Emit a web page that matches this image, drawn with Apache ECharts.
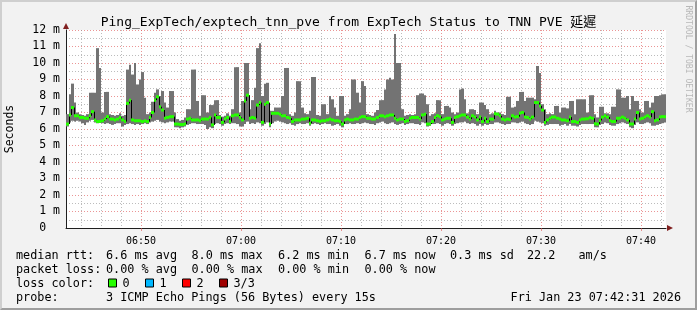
<!DOCTYPE html>
<html><head><meta charset="utf-8">
<script src="https://cdn.jsdelivr.net/npm/echarts@6/dist/echarts.min.js"></script>
<style>
html,body{margin:0;padding:0;background:#f2f2f2;}
#wrap{position:relative;width:697px;height:310px;overflow:hidden;}
#chart{position:absolute;left:0;top:0;width:697px;height:310px;}
#frame{position:absolute;left:0;top:0;width:697px;height:310px;box-sizing:border-box;border-top:2px solid #cfcfcf;border-left:2px solid #cfcfcf;border-right:2px solid #9e9e9e;border-bottom:2px solid #9e9e9e;pointer-events:none;}
</style></head><body>
<div id="wrap"><div id="chart"></div><div id="frame"></div></div>
<script>
// ---- data ----
const startTime = '06:42:30';
const endTime = '07:42:30';
const stepSeconds = 15;

const maxMs = [
  6.9, 8.1, 8.75, 7.6, 7.0, 6.9, 6.85, 6.8, 6.9, 8.2,
  8.2, 8.2, 10.9, 9.7, 7.0, 8.25, 8.25, 6.9, 6.85, 6.8,
  6.85, 6.95, 6.8, 6.85, 9.6, 9.9, 9.3, 10.0, 8.7, 9.0,
  9.45, 7.9, 6.9, 7.0, 7.65, 8.2, 8.4, 8.0, 8.3, 7.6,
  7.3, 8.3, 8.3, 7.0, 6.6, 6.5, 6.55, 6.7, 7.2, 7.2,
  9.6, 9.6, 7.7, 6.8, 8.05, 8.05, 7.0, 7.45, 7.45, 7.75,
  7.75, 6.85, 6.75, 6.8, 6.95, 6.8, 7.2, 9.75, 9.75, 7.0,
  7.7, 10.0, 10.0, 7.2, 7.75, 8.5, 10.9, 11.2, 8.0, 8.75,
  8.8, 7.1, 7.1, 7.3, 7.3, 7.3, 8.0, 9.7, 9.7, 6.9,
  6.8, 7.0, 8.9, 8.9, 7.3, 6.95, 6.9, 7.1, 9.15, 9.15,
  6.85, 6.8, 7.5, 7.5, 6.9, 8.0, 7.8, 7.3, 6.8, 8.0,
  8.0, 6.8, 6.9, 7.2, 9.0, 9.0, 8.2, 7.6, 8.9, 8.6,
  6.9, 6.85, 6.8, 7.0, 7.15, 7.75, 7.75, 8.4, 9.0, 9.1,
  9.0, 11.76, 10.0, 10.0, 7.2, 6.8, 6.85, 6.9, 6.85, 6.9,
  8.05, 8.15, 8.15, 8.05, 7.5, 6.8, 6.9, 6.95, 7.75, 7.75,
  6.9, 7.4, 7.4, 7.3, 7.0, 6.9, 7.0, 8.4, 8.45, 7.8,
  6.95, 7.2, 7.2, 7.15, 6.9, 7.6, 7.6, 7.45, 7.2, 6.9,
  6.95, 7.1, 7.0, 7.0, 6.9, 6.85, 7.95, 7.95, 7.3, 7.35,
  7.7, 8.25, 8.25, 7.7, 7.9, 7.9, 7.9, 7.8, 9.82, 9.4,
  7.5, 7.2, 6.9, 6.95, 6.9, 7.4, 7.4, 7.0, 7.3, 7.3,
  7.25, 7.7, 7.7, 6.9, 7.8, 7.8, 7.8, 7.8, 7.0, 8.05,
  8.05, 6.9, 6.7, 7.35, 7.35, 6.95, 6.95, 6.9, 7.35, 7.35,
  8.4, 8.4, 7.9, 7.9, 8.0, 7.2, 8.0, 7.7, 7.7, 7.2,
  7.0, 7.7, 7.7, 7.3, 7.6, 8.0, 8.0, 8.05, 8.1, 8.1
];

const medianMs = [
  6.3, 6.85, 7.3, 6.8, 6.8, 6.7, 6.7, 6.65, 6.65, 6.8,
  7.05, 6.55, 6.45, 6.45, 6.5, 6.6, 6.75, 6.6, 6.6, 6.55,
  6.6, 6.7, 6.55, 6.45, 7.55, 7.75, 6.55, 6.5, 6.5, 6.5,
  6.45, 6.5, 6.45, 6.7, 7.0, 7.75, 7.95, 7.35, 7.15, 6.65,
  6.7, 6.75, 6.75, 6.3, 6.3, 6.27, 6.27, 6.3, 6.6, 6.65,
  6.55, 6.55, 6.55, 6.5, 6.6, 6.6, 6.6, 6.7, 6.25, 6.85,
  6.7, 6.7, 6.4, 6.6, 6.7, 6.45, 6.8, 6.85, 6.85, 6.7,
  6.55, 7.7, 8.05, 6.65, 6.7, 6.65, 7.45, 7.6, 6.4, 7.5,
  7.6, 6.3, 6.95, 6.95, 6.95, 6.9, 6.8, 6.8, 6.7, 6.65,
  6.45, 6.55, 6.55, 6.55, 6.6, 6.6, 6.65, 6.35, 6.55, 6.55,
  6.5, 6.45, 6.5, 6.5, 6.55, 6.6, 6.55, 6.5, 6.5, 6.45,
  6.3, 6.55, 6.6, 6.55, 6.55, 6.6, 6.6, 6.7, 6.75, 6.75,
  6.65, 6.65, 6.6, 6.6, 6.7, 6.8, 6.8, 6.75, 6.8, 6.85,
  6.85, 6.65, 6.55, 6.6, 6.6, 6.45, 6.5, 6.65, 6.7, 6.7,
  6.7, 6.6, 6.85, 6.9, 6.3, 6.3, 6.45, 6.7, 6.8, 6.75,
  6.55, 6.6, 6.65, 6.65, 6.4, 6.7, 6.75, 6.8, 6.85, 6.85,
  6.72, 6.6, 6.8, 6.72, 6.55, 6.72, 6.45, 6.65, 6.45, 6.6,
  6.6, 6.92, 6.9, 6.8, 6.6, 6.55, 6.6, 6.58, 6.8, 6.72,
  6.75, 6.95, 7.0, 6.72, 6.7, 6.6, 6.72, 7.6, 7.6, 7.4,
  7.15, 6.4, 6.55, 6.65, 6.72, 6.72, 6.65, 6.6, 6.55, 6.55,
  6.5, 6.72, 6.45, 6.45, 6.4, 6.55, 6.6, 6.6, 6.62, 6.7,
  6.65, 6.32, 6.3, 6.52, 6.72, 6.8, 6.72, 6.52, 6.45, 6.45,
  6.65, 6.65, 6.72, 6.65, 6.55, 6.3, 6.3, 6.6, 7.0, 6.6,
  6.65, 6.72, 6.8, 6.72, 7.05, 6.5, 6.55, 6.72, 6.75, 6.75
];

const minMs = [
  6.15, 6.4, 6.5, 6.45, 6.5, 6.45, 6.35, 6.25, 6.4, 6.5,
  6.55, 6.4, 6.35, 6.4, 6.35, 6.3, 6.35, 6.3, 6.25, 6.3,
  6.35, 6.35, 6.15, 6.25, 6.3, 6.35, 6.3, 6.25, 6.3, 6.25,
  6.3, 6.35, 6.3, 6.4, 6.45, 6.5, 6.55, 6.45, 6.4, 6.35,
  6.4, 6.45, 6.45, 6.1, 6.1, 6.05, 6.1, 6.15, 6.25, 6.3,
  6.35, 6.35, 6.3, 6.3, 6.3, 6.25, 6.0, 6.1, 6.05, 6.3,
  6.35, 6.3, 6.2, 6.3, 6.35, 6.3, 6.35, 6.35, 6.3, 6.15,
  6.15, 6.3, 6.45, 6.3, 6.35, 6.3, 6.4, 6.35, 6.2, 6.3,
  6.4, 6.1, 6.35, 6.45, 6.5, 6.45, 6.4, 6.35, 6.3, 6.35,
  6.25, 6.2, 6.3, 6.35, 6.3, 6.3, 6.35, 6.2, 6.3, 6.35,
  6.3, 6.25, 6.3, 6.35, 6.3, 6.3, 6.2, 6.25, 6.3, 6.2,
  6.1, 6.3, 6.3, 6.35, 6.3, 6.3, 6.35, 6.3, 6.35, 6.4,
  6.35, 6.3, 6.3, 6.25, 6.35, 6.4, 6.45, 6.35, 6.3, 6.35,
  6.4, 6.3, 6.25, 6.3, 6.35, 6.25, 6.3, 6.35, 6.35, 6.3,
  6.3, 6.25, 6.4, 6.35, 6.15, 6.2, 6.3, 6.3, 6.35, 6.3,
  6.2, 6.3, 6.35, 6.3, 6.2, 6.3, 6.35, 6.4, 6.4, 6.45,
  6.35, 6.3, 6.35, 6.3, 6.2, 6.3, 6.2, 6.3, 6.25, 6.3,
  6.3, 6.4, 6.4, 6.35, 6.3, 6.25, 6.3, 6.3, 6.4, 6.4,
  6.35, 6.4, 6.45, 6.35, 6.3, 6.25, 6.3, 6.5, 6.45, 6.4,
  6.35, 6.2, 6.25, 6.3, 6.3, 6.3, 6.3, 6.2, 6.25, 6.3,
  6.2, 6.3, 6.2, 6.2, 6.15, 6.25, 6.3, 6.3, 6.3, 6.3,
  6.3, 6.1, 6.1, 6.25, 6.3, 6.4, 6.35, 6.25, 6.2, 6.2,
  6.3, 6.35, 6.4, 6.35, 6.3, 6.1, 6.05, 6.25, 6.4, 6.3,
  6.3, 6.35, 6.4, 6.35, 6.2, 6.2, 6.25, 6.3, 6.35, 6.4
];

const xTickLabels = ['06:50', '07:00', '07:10', '07:20', '07:30', '07:40'];
const yMin = 0, yMax = 12, yStep = 1;

const titleText = 'Ping_ExpTech/exptech_tnn_pve from ExpTech Status to TNN PVE 延遲';
const yAxisTitle = 'Seconds';
const rttLabel = 'median rtt:';
const rttItems = ['6.6 ms avg', '8.0 ms max', '6.2 ms min', '6.7 ms now', '0.3 ms sd', '22.2', 'am/s'];
const lossLabel = 'packet loss:';
const lossItems = ['0.00 % avg', '0.00 % max', '0.00 % min', '0.00 % now'];
const lossColorLabel = 'loss color:';
const lossColorNames = ['0', '1', '2', '3/3'];
const lossColorValues = ['#26ff00', '#00b8ff', '#ff0000', '#a00000'];
const probeLabel = 'probe:';
const probeText = '3 ICMP Echo Pings (56 Bytes) every 15s';
const dateText = 'Fri Jan 23 07:42:31 2026';
const watermark = 'RRDTOOL / TOBI OETIKER';

// ---- layout / style ----
const MONO = '"DejaVu Sans Mono", "Noto Sans CJK TC", monospace';
const itemX = [106, 191.5, 278, 364.5, 450, 527, 578.5];
const lineY = [256, 270, 283.5, 297.5];
const boxX = [108, 145, 182, 219];
const legendFont = '11.8px ' + MONO;

const toSec = s => { const p = s.split(':').map(Number); return p[0] * 3600 + p[1] * 60 + (p[2] || 0); };
const t0 = toSec(startTime), t1 = toSec(endTime);
const times = medianMs.map((_, i) => t0 + i * stepSeconds);
const smokeData = times.map((t, i) => [t, minMs[i], maxMs[i]]);
const medData = times.map((t, i) => [t, medianMs[i]]);
const stepData = times.slice(1).map((t, k) => [t, medianMs[k], medianMs[k + 1]]);
const majorTicks = xTickLabels.map(toSec);
const minorTicks = [];
for (let s = Math.ceil(t0 / 120) * 120; s < t1; s += 120) if (s % 600) minorTicks.push(s);
const pad = n => String(n).padStart(2, '0');
const fmtTime = v => pad(Math.floor(v / 3600)) + ':' + pad(Math.floor((v % 3600) / 60));

const GRID = 'rgba(143,143,143,0.6)';
const MGRID = 'rgba(222,79,79,0.6)';
const AXIS = '#1f1f1f';
const ARROW = '#801f1f';

const chart = echarts.init(document.getElementById('chart'), null, { renderer: 'canvas' });

const graphic = [];
graphic.push({ type: 'text', x: 688, y: 59, rotation: -Math.PI / 2, silent: true,
  style: { text: watermark, font: '8.1px ' + MONO, fill: '#b8b8b8', align: 'center', verticalAlign: 'middle' } });
graphic.push({ type: 'text', x: 10.5, y: 129, rotation: Math.PI / 2, silent: true,
  style: { text: yAxisTitle, font: '11.5px ' + MONO, fill: '#000', align: 'center', verticalAlign: 'middle' } });
graphic.push({ type: 'text', x: 16, y: lineY[0], style: { text: rttLabel, font: legendFont, fill: '#000', verticalAlign: 'middle' } });
rttItems.forEach((s, i) => graphic.push({ type: 'text', x: itemX[i], y: lineY[0], style: { text: s, font: legendFont, fill: '#000', verticalAlign: 'middle' } }));
graphic.push({ type: 'text', x: 16, y: lineY[1], style: { text: lossLabel, font: legendFont, fill: '#000', verticalAlign: 'middle' } });
lossItems.forEach((s, i) => graphic.push({ type: 'text', x: itemX[i], y: lineY[1], style: { text: s, font: legendFont, fill: '#000', verticalAlign: 'middle' } }));
graphic.push({ type: 'text', x: 16, y: lineY[2], style: { text: lossColorLabel, font: legendFont, fill: '#000', verticalAlign: 'middle' } });
lossColorNames.forEach((s, i) => {
  graphic.push({ type: 'rect', shape: { x: boxX[i] + 0.5, y: lineY[2] - 4.5, width: 8, height: 8 }, style: { fill: lossColorValues[i], stroke: '#000', lineWidth: 1 } });
  graphic.push({ type: 'text', x: boxX[i] + 14.5, y: lineY[2], style: { text: s, font: legendFont, fill: '#000', verticalAlign: 'middle' } });
});
graphic.push({ type: 'text', x: 16, y: lineY[3], style: { text: probeLabel, font: legendFont, fill: '#000', verticalAlign: 'middle' } });
graphic.push({ type: 'text', x: itemX[0], y: lineY[3], style: { text: probeText, font: legendFont, fill: '#000', verticalAlign: 'middle' } });
graphic.push({ type: 'text', x: 681, y: lineY[3], style: { text: dateText, font: legendFont, fill: '#000', align: 'right', verticalAlign: 'middle' } });

const option = {
  animation: false,
  backgroundColor: 'transparent',
  title: {
    text: titleText, left: 'center', top: 16, padding: 0,
    textStyle: { fontFamily: MONO, fontSize: 13, fontWeight: 'normal', color: '#000' }
  },
  grid: { left: 66, top: 30, width: 600, height: 198, show: true, backgroundColor: '#ffffff', borderWidth: 0, containLabel: false, outerBoundsMode: 'none' },
  xAxis: [
    {
      type: 'value', min: t0, max: t1, position: 'bottom',
      axisLine: { show: true, onZero: false, lineStyle: { color: AXIS, width: 1 } },
      axisTick: { show: true, customValues: majorTicks, length: 3, lineStyle: { color: MGRID } },
      axisLabel: { customValues: majorTicks, formatter: v => fmtTime(v), fontFamily: MONO, fontSize: 10, color: '#000', margin: 8 },
      splitLine: { show: true, lineStyle: { color: MGRID, width: 1, type: [1, 2] } }
    },
    {
      type: 'value', min: t0, max: t1, position: 'top',
      axisLine: { show: false }, axisLabel: { show: false },
      axisTick: { show: false, customValues: minorTicks },
      splitLine: { show: true, lineStyle: { color: GRID, width: 1, type: [1, 2] } }
    },
    {
      type: 'value', min: t0, max: t1, position: 'bottom',
      axisLine: { show: true, onZero: false, symbol: ['none', 'triangle'], symbolSize: [6, 6], symbolOffset: [0, 4], lineStyle: { color: ARROW, width: 0 } },
      axisLabel: { show: false }, axisTick: { show: false }, splitLine: { show: false }
    }
  ],
  yAxis: [
    {
      type: 'value', min: yMin, max: yMax, interval: yStep, position: 'left',
      axisLine: { show: true, onZero: false, lineStyle: { color: AXIS, width: 1 } },
      axisTick: { show: false },
      axisLabel: { formatter: v => (v === 0 ? '0  ' : v + ' m'), fontFamily: MONO, fontSize: 11.5, color: '#000', margin: 6 },
      splitLine: { show: true, lineStyle: { color: MGRID, width: 1, type: [1, 2] } },
      minorTick: { show: false, splitNumber: 2 },
      minorSplitLine: { show: true, lineStyle: { color: GRID, width: 1, type: [1, 2] } }
    },
    {
      type: 'value', min: yMin, max: yMax, interval: yStep, position: 'left',
      axisLine: { show: true, onZero: false, symbol: ['none', 'triangle'], symbolSize: [6, 6], symbolOffset: [0, 4], lineStyle: { color: ARROW, width: 0 } },
      axisLabel: { show: false }, axisTick: { show: false }, splitLine: { show: false }
    }
  ],
  graphic: graphic,
  series: [
    {
      name: 'smoke', type: 'custom', xAxisIndex: 0, yAxisIndex: 0, clip: true, silent: true,
      encode: { x: 0, y: [1, 2] }, data: smokeData,
      renderItem: (params, api) => {
        const t = api.value(0);
        const a = api.coord([t, api.value(2)]);
        const b = api.coord([t + stepSeconds, api.value(1)]);
        const x0 = Math.round(a[0]), x1 = Math.round(b[0]);
        return { type: 'rect', shape: { x: x0, y: a[1], width: x1 - x0, height: b[1] - a[1] }, style: { fill: '#737373' } };
      }
    },
    {
      name: 'median step', type: 'custom', xAxisIndex: 0, yAxisIndex: 0, clip: true, silent: true,
      encode: { x: 0, y: [1, 2] }, data: stepData,
      renderItem: (params, api) => {
        const t = api.value(0);
        const p = api.coord([t, api.value(1)]);
        const q = api.coord([t, api.value(2)]);
        const x = Math.round(p[0]) + 0.5;
        return { type: 'line', shape: { x1: x, y1: p[1], x2: x, y2: q[1] }, style: { stroke: '#000', lineWidth: 1 } };
      }
    },
    {
      name: 'median rtt', type: 'custom', xAxisIndex: 0, yAxisIndex: 0, clip: true, silent: true,
      encode: { x: 0, y: 1 }, data: medData,
      renderItem: (params, api) => {
        const t = api.value(0), m = api.value(1);
        const a = api.coord([t, m]), b = api.coord([t + stepSeconds, m]);
        const x0 = Math.round(a[0]), x1 = Math.round(b[0]);
        return { type: 'rect', shape: { x: x0, y: a[1] - 1.5, width: x1 - x0, height: 3 }, style: { fill: '#26ff00' } };
      }
    }
  ]
};
chart.setOption(option);
</script>
</body></html>
